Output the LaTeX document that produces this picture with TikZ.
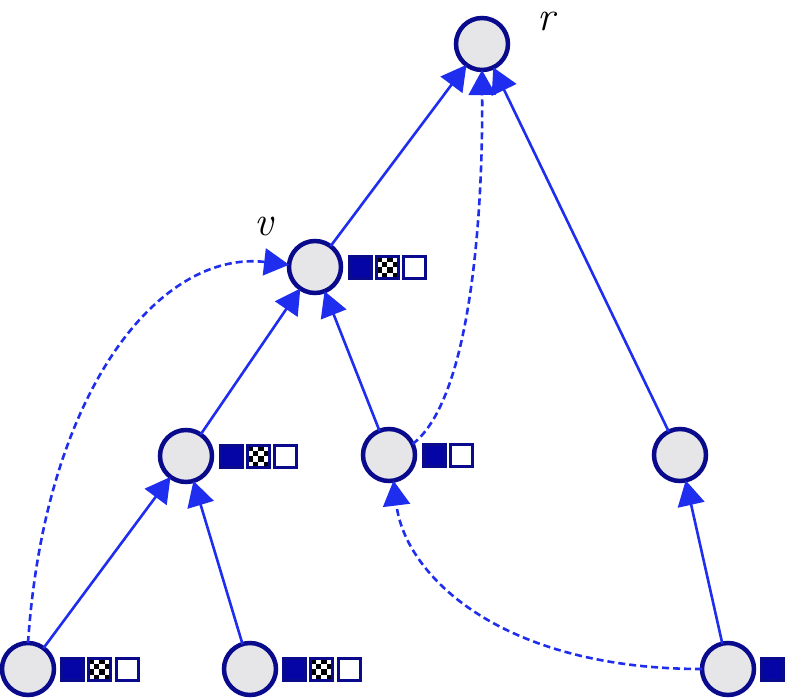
\documentclass[tikz,border=0pt]{standalone}
\usepackage{fontspec}
\usetikzlibrary{arrows.meta}
\definecolor{edgeblue}{RGB}{30,45,238}
\definecolor{navy}{RGB}{10,10,140}
\definecolor{sqfill}{RGB}{5,5,165}
\definecolor{nodegray}{RGB}{230,230,232}
\begin{document}
\begin{tikzpicture}[x=1bp,y=-1bp,
  vert/.style={circle,draw=navy,line width=4.5bp,fill=nodegray,minimum size=52bp,inner sep=0pt,outer sep=0pt},
  sqfull/.style={rectangle,draw=navy,line width=3bp,fill=sqfill,minimum size=22bp,inner sep=0pt,outer sep=0pt},
  sqempty/.style={sqfull,fill=white},
  sqcheck/.style={sqfull,fill=white,path picture={
      \foreach \i in {0,1,2,3}{\foreach \j in {0,1,2,3}{
        \pgfmathtruncatemacro\k{\i+\j}
        \ifodd\k\else
          \fill[black] ([shift={(\i*5.5-11,\j*5.5-11)}]path picture bounding box.center) rectangle ++(5.5,5.5);
        \fi}}}},
  arr/.style={draw=edgeblue,line width=2.6bp,-{Triangle[length=25bp,width=27bp]}},
  darr/.style={arr,dash pattern=on 7bp off 4bp},
  lab/.style={font=\fontsize{42}{42}\selectfont\itshape,inner sep=0pt}
]
\useasboundingbox (0,0) rectangle (785,698);
\clip (0,0) rectangle (785,698);
% vertices
\node[vert] (r) at (482,44) {};
\node[vert] (v) at (315,267) {};
\node[vert] (a) at (186,456) {};
\node[vert] (b) at (389,455) {};
\node[vert] (c) at (680,455) {};
\node[vert] (d) at (28,669) {};
\node[vert] (e) at (250,669) {};
\node[vert] (f) at (728,669) {};
% labels
\node[lab] (lr) at (546,21) {r};
\node[lab] (lv) at (264,226) {v};
% edges
\draw[arr] (v) -- (r);
\draw[arr] (a) -- (v);
\draw[arr] (b) -- (v);
\draw[arr] (d) -- (a);
\draw[arr] (e) -- (a);
\draw[arr] (c) -- (r);
\draw[arr] (f) -- (c);
\draw[darr] (d.north) .. controls (45,390) and (160,250) .. (v.175);
\draw[darr] (f.west) .. controls (500,669) and (405,575) .. (b.-80);
\draw[darr] (b.25) .. controls (470,400) and (483,220) .. (r.south);
% squares
\node[sqfull] (v1) at (360,267) {};
\node[sqcheck] (v2) at (387,267) {};
\node[sqempty] (v3) at (414,267) {};
\node[sqfull] (a1) at (231,456) {};
\node[sqcheck] (a2) at (258,456) {};
\node[sqempty] (a3) at (285,456) {};
\node[sqfull] (b1) at (434,455) {};
\node[sqempty] (b2) at (461,455) {};
\node[sqfull] (d1) at (72,669) {};
\node[sqcheck] (d2) at (99,669) {};
\node[sqempty] (d3) at (127,669) {};
\node[sqfull] (e1) at (294,669) {};
\node[sqcheck] (e2) at (321,669) {};
\node[sqempty] (e3) at (349,669) {};
\node[sqfull] (f1) at (772,669) {};
\end{tikzpicture}
\end{document}
